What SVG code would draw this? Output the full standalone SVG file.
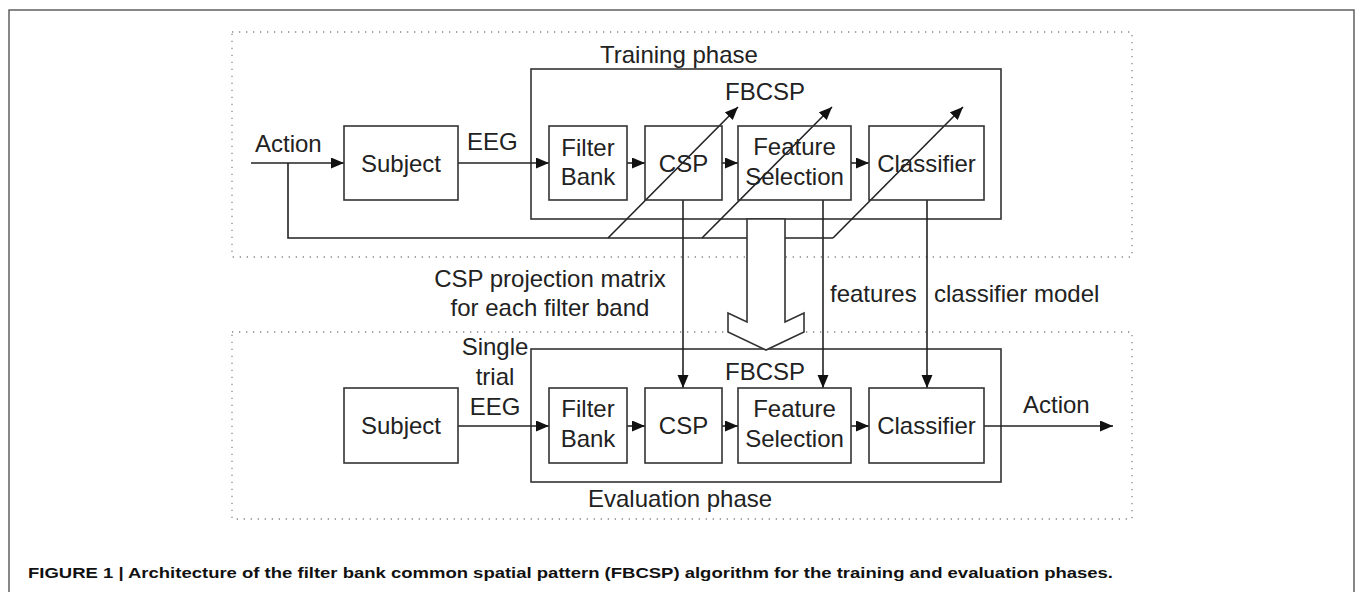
<svg xmlns="http://www.w3.org/2000/svg" width="1357" height="592" viewBox="0 0 1357 592">
<style>
.t{font-family:"Liberation Sans",Arial,sans-serif;font-size:24px;fill:#222}
.m{text-anchor:middle}
.box{fill:#fff;stroke:#333;stroke-width:1.6}
.grp{fill:none;stroke:#333;stroke-width:1.6}
.dot{fill:none;stroke:#888;stroke-width:1.3;stroke-dasharray:1.3 5.7}
.ln{fill:none;stroke:#222;stroke-width:1.6}
.cap{font-family:"Liberation Sans",Arial,sans-serif;font-size:15px;font-weight:bold;fill:#111}
</style>
<defs>
<marker id="ah" markerUnits="userSpaceOnUse" markerWidth="14" markerHeight="12" refX="13" refY="5.5" orient="auto">
<path d="M0,0 L13,5.5 L0,11 z" fill="#111"/>
</marker>
</defs>
<rect x="0" y="0" width="1357" height="592" fill="#fff"/>
<rect x="9" y="10" width="1345" height="600" fill="none" stroke="#555" stroke-width="1.4"/>

<g id="training-phase">
<rect class="dot" x="232" y="32" width="900" height="225"/>
<text class="t" x="600" y="63">Training phase</text>
<rect class="grp" x="531" y="69" width="470" height="150"/>
<text class="t" x="725" y="100">FBCSP</text>
</g>
<g id="evaluation-phase">
<rect class="dot" x="232" y="332" width="900" height="187"/>
<rect class="grp" x="531" y="349" width="470" height="133"/>
<text class="t" x="725" y="380">FBCSP</text>
<text class="t" x="588" y="507">Evaluation phase</text>
</g>

<g id="connectors">
<line class="ln" x1="251" y1="163" x2="344" y2="163" marker-end="url(#ah)"/>
<line class="ln" x1="458" y1="163" x2="549" y2="163" marker-end="url(#ah)"/>
<line class="ln" x1="627" y1="163" x2="645" y2="163" marker-end="url(#ah)"/>
<line class="ln" x1="722" y1="163" x2="738" y2="163" marker-end="url(#ah)"/>
<line class="ln" x1="851" y1="163" x2="869" y2="163" marker-end="url(#ah)"/>
<polyline class="ln" points="288,163 288,238 760,238"/>
<line class="ln" x1="770" y1="238" x2="833" y2="238"/>
<line class="ln" x1="608" y1="238" x2="738" y2="107" marker-end="url(#ah)"/>
<line class="ln" x1="702" y1="238" x2="832" y2="107" marker-end="url(#ah)"/>
<line class="ln" x1="833" y1="238" x2="963" y2="107" marker-end="url(#ah)"/>
<line class="ln" x1="683" y1="200" x2="683" y2="388" marker-end="url(#ah)"/>
<line class="ln" x1="823" y1="200" x2="823" y2="388" marker-end="url(#ah)"/>
<line class="ln" x1="927" y1="200" x2="927" y2="388" marker-end="url(#ah)"/>
<line class="ln" x1="458" y1="426" x2="549" y2="426" marker-end="url(#ah)"/>
<line class="ln" x1="627" y1="426" x2="645" y2="426" marker-end="url(#ah)"/>
<line class="ln" x1="722" y1="426" x2="738" y2="426" marker-end="url(#ah)"/>
<line class="ln" x1="851" y1="426" x2="869" y2="426" marker-end="url(#ah)"/>
<line class="ln" x1="984" y1="426" x2="1113" y2="426" marker-end="url(#ah)"/>
<polygon points="747,219 747,322 728,313 728,332 766,350 804,332 804,313 785,322 785,219" fill="#fff" stroke="#333" stroke-width="1.6"/>
</g>

<g id="labels">
<text class="t" x="255" y="152">Action</text>
<text class="t" x="467" y="150">EEG</text>
<text class="t m" x="550" y="287">CSP projection matrix</text>
<text class="t m" x="550" y="316">for each filter band</text>
<text class="t" x="830" y="302">features</text>
<text class="t" x="934" y="302">classifier model</text>
<text class="t m" x="495" y="355">Single</text>
<text class="t m" x="495" y="385">trial</text>
<text class="t m" x="495" y="415">EEG</text>
<text class="t" x="1023" y="413">Action</text>
</g>

<g id="t-subject"><rect class="box" x="344" y="126" width="114" height="74"/><text class="t m" x="401" y="172">Subject</text></g>
<g id="t-filterbank"><rect class="box" x="549" y="126" width="78" height="74"/><text class="t m" x="588" y="156">Filter</text><text class="t m" x="588" y="185">Bank</text></g>
<g id="t-csp"><rect class="box" x="645" y="126" width="77" height="74" fill-opacity="0"/><text class="t m" x="683.5" y="172">CSP</text></g>
<g id="t-feature"><rect class="box" x="738" y="126" width="113" height="74" fill-opacity="0"/><text class="t m" x="794.5" y="155">Feature</text><text class="t m" x="794.5" y="185">Selection</text></g>
<g id="t-classifier"><rect class="box" x="869" y="126" width="115" height="74" fill-opacity="0"/><text class="t m" x="926.5" y="172">Classifier</text></g>

<g id="e-subject"><rect class="box" x="344" y="388" width="114" height="75"/><text class="t m" x="401" y="434">Subject</text></g>
<g id="e-filterbank"><rect class="box" x="549" y="388" width="78" height="75"/><text class="t m" x="588" y="417">Filter</text><text class="t m" x="588" y="447">Bank</text></g>
<g id="e-csp"><rect class="box" x="645" y="388" width="77" height="75"/><text class="t m" x="683.5" y="434">CSP</text></g>
<g id="e-feature"><rect class="box" x="738" y="388" width="113" height="75"/><text class="t m" x="794.5" y="417">Feature</text><text class="t m" x="794.5" y="447">Selection</text></g>
<g id="e-classifier"><rect class="box" x="869" y="388" width="115" height="75"/><text class="t m" x="926.5" y="434">Classifier</text></g>

<text class="cap" x="28" y="578" textLength="1085" lengthAdjust="spacingAndGlyphs">FIGURE 1 | Architecture of the filter bank common spatial pattern (FBCSP) algorithm for the training and evaluation phases.</text>
</svg>
